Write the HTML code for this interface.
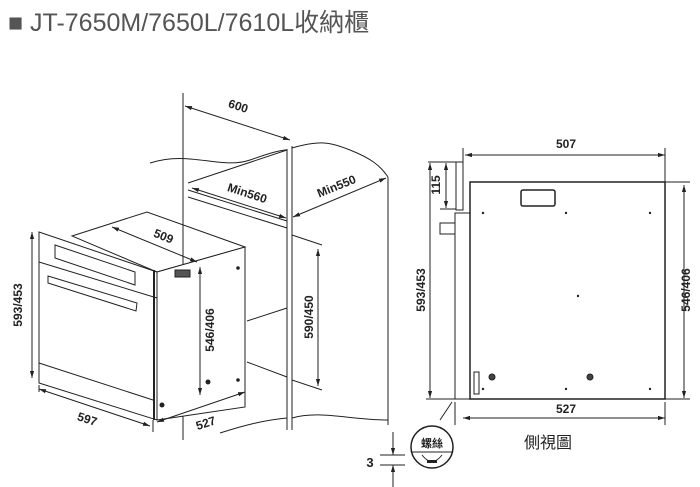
<!DOCTYPE html>
<html><head><meta charset="utf-8"><style>
body{margin:0;background:#fff;width:700px;height:487px;overflow:hidden}
svg{display:block}
text{font-family:"Liberation Sans","Noto Sans CJK TC",sans-serif;fill:#222}
</style></head><body>
<svg width="700" height="487" viewBox="0 0 700 487" xmlns="http://www.w3.org/2000/svg">
<defs>
<marker id="a" viewBox="0 0 10 10" refX="10" refY="5" markerWidth="7" markerHeight="7" orient="auto-start-reverse"><path d="M0,2 L10,5 L0,8 z" fill="#222"/></marker>
</defs>
<text x="8" y="31" font-size="25" style="fill:#555">■ JT-7650M/7650L/7610L收納櫃</text>
<g stroke="#222" fill="none" stroke-width="1">
<!-- cabinet -->
<line x1="183" y1="93" x2="183" y2="440"/>
<line x1="287" y1="149" x2="287" y2="430"/>
<line x1="292" y1="146" x2="292" y2="430"/>
<line x1="388" y1="177" x2="388" y2="425"/>
<path d="M150,163 C190,150 220,170 250,160 C270,153 280,150 287,150"/>
<path d="M292,148 C320,140 330,142 350,150 C370,158 380,165 388,177"/>
<path d="M220,433 C245,425 265,420 287,418"/>
<path d="M292,418 C320,410 350,420 388,420"/>
<line x1="188" y1="190" x2="287" y2="221"/>
<line x1="188" y1="197" x2="287" y2="228"/>
<line x1="188" y1="183" x2="287" y2="150"/>
<line x1="247" y1="321" x2="287" y2="308"/>
<line x1="247" y1="362" x2="287" y2="377"/>
<line x1="292" y1="235" x2="322" y2="245"/>
<line x1="292" y1="380" x2="322" y2="390"/>
<!-- oven -->
<polygon points="39,232 157,272 157,420 39,383" fill="#fff"/>
<polygon points="72,236 147,212 245,247 157,272"/>
<polygon points="157,272 245,247 245,407 157,420" fill="#fff"/>
<polygon points="55,245 135,272 135,285 55,258"/>
<line x1="39" y1="262" x2="157" y2="298"/>
<line x1="39" y1="363" x2="153" y2="400"/>
<polygon points="48,276 137,303 136,311 48,283"/>
<rect x="175" y="270" width="15" height="7" fill="#555"/>
<line x1="154" y1="270" x2="154" y2="420" stroke-width="2"/>
<circle cx="208" cy="382" r="2" fill="#222"/><circle cx="162" cy="405" r="2" fill="#222"/>
<circle cx="238" cy="268" r="1.3" fill="#222"/><circle cx="238" cy="380" r="1.3" fill="#222"/>
<!-- dims -->
<line x1="185" y1="106" x2="290" y2="140" marker-start="url(#a)" marker-end="url(#a)"/>
<line x1="192" y1="188" x2="286" y2="218" marker-start="url(#a)" marker-end="url(#a)"/>
<line x1="293" y1="217" x2="386" y2="178" marker-start="url(#a)" marker-end="url(#a)"/>
<line x1="318" y1="249" x2="318" y2="386" marker-start="url(#a)" marker-end="url(#a)"/>
<line x1="112" y1="227" x2="197" y2="262" marker-start="url(#a)" marker-end="url(#a)"/>
<line x1="200" y1="267" x2="200" y2="395" marker-start="url(#a)" marker-end="url(#a)"/>
<line x1="32" y1="232" x2="32" y2="378" marker-start="url(#a)" marker-end="url(#a)"/>
<line x1="39" y1="389" x2="150" y2="426" marker-start="url(#a)" marker-end="url(#a)"/>
<line x1="157" y1="422" x2="245" y2="392" marker-start="url(#a)" marker-end="url(#a)"/>
<line x1="39" y1="385" x2="39" y2="392"/><line x1="153" y1="420" x2="153" y2="432"/>
<!-- side view -->
<rect x="470" y="182" width="195" height="217" fill="#fff" stroke-width="1.5"/>
<rect x="456" y="162" width="7" height="48"/>
<rect x="455" y="213" width="15" height="186"/>
<rect x="440" y="223" width="15" height="11"/>
<rect x="521" y="190" width="34" height="16" rx="2" stroke-width="1.5"/>
<rect x="474" y="372" width="5" height="22"/>
<circle cx="492" cy="377" r="3" fill="#444"/><circle cx="590" cy="377" r="3" fill="#444"/>
<line x1="465" y1="155" x2="665" y2="155" marker-start="url(#a)" marker-end="url(#a)"/>
<line x1="463" y1="148" x2="463" y2="162"/><line x1="665" y1="148" x2="665" y2="182"/>
<line x1="446" y1="163" x2="446" y2="208" marker-start="url(#a)" marker-end="url(#a)"/>
<line x1="428" y1="162" x2="456" y2="162"/><line x1="440" y1="209" x2="456" y2="209"/>
<line x1="430" y1="163" x2="430" y2="398" marker-start="url(#a)" marker-end="url(#a)"/>
<line x1="426" y1="399" x2="455" y2="399"/>
<line x1="684" y1="185" x2="684" y2="398" marker-start="url(#a)" marker-end="url(#a)"/>
<line x1="665" y1="182" x2="690" y2="182"/><line x1="665" y1="399" x2="690" y2="399"/>
<line x1="463" y1="418" x2="665" y2="418" marker-start="url(#a)" marker-end="url(#a)"/>
<line x1="455" y1="402" x2="455" y2="425"/><line x1="665" y1="402" x2="665" y2="425"/>
<line x1="440" y1="420" x2="452" y2="402"/>
<!-- screw -->
<circle cx="432" cy="447" r="21" stroke-width="1.5"/>
<line x1="412" y1="452" x2="452" y2="452"/>
<path d="M422,455 Q432,468 442,455"/>
<line x1="380" y1="455" x2="405" y2="455"/><line x1="380" y1="465" x2="405" y2="465"/>
<line x1="393" y1="432" x2="393" y2="455" marker-end="url(#a)"/>
<line x1="393" y1="487" x2="393" y2="465" marker-end="url(#a)"/>
</g>
<g fill="#222">
<circle cx="483" cy="213" r="1.2"/><circle cx="566" cy="213" r="1.2"/><circle cx="650" cy="213" r="1.2"/>
<circle cx="578" cy="296" r="1.2"/>
<circle cx="483" cy="389" r="1.2"/><circle cx="566" cy="389" r="1.2"/><circle cx="650" cy="389" r="1.2"/>
</g>
<rect x="427" y="460" width="10" height="3" fill="#222"/>
<g font-size="12" font-weight="bold" text-anchor="middle">
<text transform="translate(237,110) rotate(18)">600</text>
<text transform="translate(246,197) rotate(18)">Min560</text>
<text transform="translate(338,190) rotate(-22)">Min550</text>
<text transform="translate(313,317) rotate(-90)">590/450</text>
<text transform="translate(162,240) rotate(22)">509</text>
<text transform="translate(214,330) rotate(-90)">546/406</text>
<text transform="translate(22,305) rotate(-90)">593/453</text>
<text transform="translate(86,423) rotate(18)">597</text>
<text transform="translate(207,427) rotate(-18)">527</text>
<text x="566" y="148">507</text>
<text transform="translate(440,185) rotate(-90)">115</text>
<text transform="translate(425,290) rotate(-90)">593/453</text>
<text transform="translate(690,290) rotate(-90)">546/406</text>
<text x="566" y="413">527</text>
<text x="370" y="467" font-size="13">3</text>
<text x="432" y="447" font-size="11">螺絲</text>
<text x="548" y="448" font-size="16" font-weight="normal">側視圖</text>
</g>
</svg>
</body></html>
